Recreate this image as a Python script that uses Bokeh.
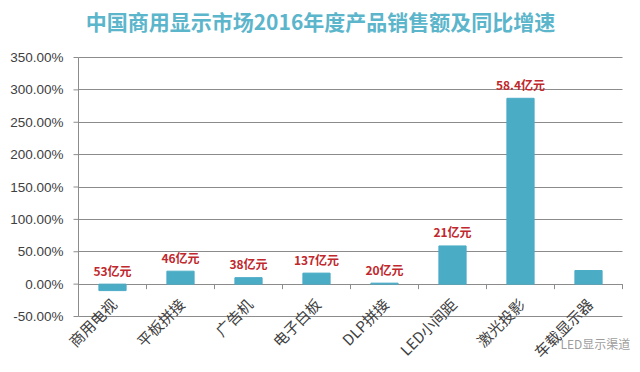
import math
from bokeh.plotting import figure
from bokeh.models import Range1d, FixedTicker, ColumnDataSource
from bokeh.core.properties import value
from bokeh.embed import file_html
from bokeh.resources import INLINE

# ---- data ----
categories = ["商用电视", "平板拼接", "广告机", "电子白板", "DLP拼接", "LED小间距", "激光投影", "车载显示器"]
growth_pct = [-10, 20, 10, 17, 1.5, 59, 287, 21]
sales_labels = ["53亿元", "46亿元", "38亿元", "137亿元", "20亿元", "21亿元", "58.4亿元", ""]
y_ticks = [-50, 0, 50, 100, 150, 200, 250, 300, 350]
y_tick_labels = [f"{t:.2f}%" for t in y_ticks]
title_text = "中国商用显示市场2016年度产品销售额及同比增速"

# ---- layout (pixels) ----
W, H = 640, 372
PLOT_L, PLOT_R = 78, 622       # category area
TOP_TICK_PX, BOTTOM_TICK_PX = 57, 316
n = len(categories)
units_per_px = (y_ticks[-1] - y_ticks[0]) / (BOTTOM_TICK_PX - TOP_TICK_PX)
x_units_per_px = n / (PLOT_R - PLOT_L)
y_end = y_ticks[-1] + TOP_TICK_PX * units_per_px
y_start = y_ticks[-1] - (H - TOP_TICK_PX) * units_per_px
x_start = -PLOT_L * x_units_per_px
x_end = n + (W - PLOT_R) * x_units_per_px

centers = [i + 0.5 for i in range(n)]
boundaries = list(range(n + 1))
label_base = [max(v, 0) for v in growth_pct]

src = ColumnDataSource(dict(x=centers, top=growth_pct, cat=categories,
                            lab=sales_labels, ly=label_base, zero=[0] * n))

p = figure(width=W, height=H, output_backend="svg", toolbar_location=None,
           x_range=Range1d(x_start, x_end), y_range=Range1d(y_start, y_end),
           x_axis_location=None, y_axis_location=None,
           min_border_left=0, min_border_right=0, min_border_top=0, min_border_bottom=0)

p.outline_line_color = None
p.background_fill_color = "white"
p.border_fill_color = "white"

AX = "#8C8C8C"
p.ygrid.ticker = FixedTicker(ticks=y_ticks)
p.ygrid.cross_bounds = (0, n)
p.ygrid.grid_line_color = AX
p.ygrid.grid_line_width = 1
p.xgrid.grid_line_color = None

# y axis (line, ticks, labels)
p.segment(x0=[0], y0=[y_ticks[0]], x1=[0], y1=[y_ticks[-1]], line_color=AX, line_width=1)
p.segment(x0=[0] * len(y_ticks), y0=y_ticks, x1=[-5 * x_units_per_px] * len(y_ticks), y1=y_ticks,
          line_color=AX, line_width=1)
p.text(x=[0] * len(y_ticks), y=y_ticks, text=y_tick_labels, x_offset=-15,
       text_align="right", text_baseline="middle",
       text_font=value("Liberation Sans"), text_font_size="13.5px", text_color="#404040")

# title
p.text(x=[(W / 2 - PLOT_L) * x_units_per_px], y=[y_ticks[-1] + (TOP_TICK_PX - 20) * units_per_px],
       text=[title_text], text_align="center", text_baseline="middle",
       text_font=value("Noto Sans CJK SC"), text_font_size="21px", text_font_style="bold",
       text_color="#5BB5CB")

# category axis ticks at boundaries
tick_len = 5 * units_per_px
p.segment(x0=boundaries, y0=[0] * len(boundaries), x1=boundaries,
          y1=[-tick_len] * len(boundaries), line_color=AX, line_width=1)

# bars
p.vbar(x="x", top="top", bottom="zero", width=0.4, source=src,
       fill_color="#4BACC6", line_color="#4BACC6")

# sales labels
p.text(x="x", y="ly", text="lab", source=src, text_align="center", text_baseline="middle",
       y_offset=-14, text_font=value("Noto Sans CJK SC"), text_font_size="12px",
       text_font_style="bold", text_color="#C0282D")

# category labels rotated 45 degrees
p.text(x="x", y="zero", text="cat", source=src, text_align="right", text_baseline="middle",
       angle=math.pi / 4, x_offset=1, y_offset=17,
       text_font=value("Noto Sans CJK SC"), text_font_size="15px", text_color="#404040")

# watermark
wm_x = (560 - PLOT_L) * x_units_per_px
wm_y = y_ticks[-1] - (343 - TOP_TICK_PX) * units_per_px
p.text(x=[wm_x], y=[wm_y], text=["LED显示渠道"], text_align="left", text_baseline="middle",
       text_font=value("Noto Sans CJK SC"), text_font_size="12px",
       text_color="#8A8A8A", text_alpha=0.85)

open("out.html", "w").write(file_html(p, INLINE))
